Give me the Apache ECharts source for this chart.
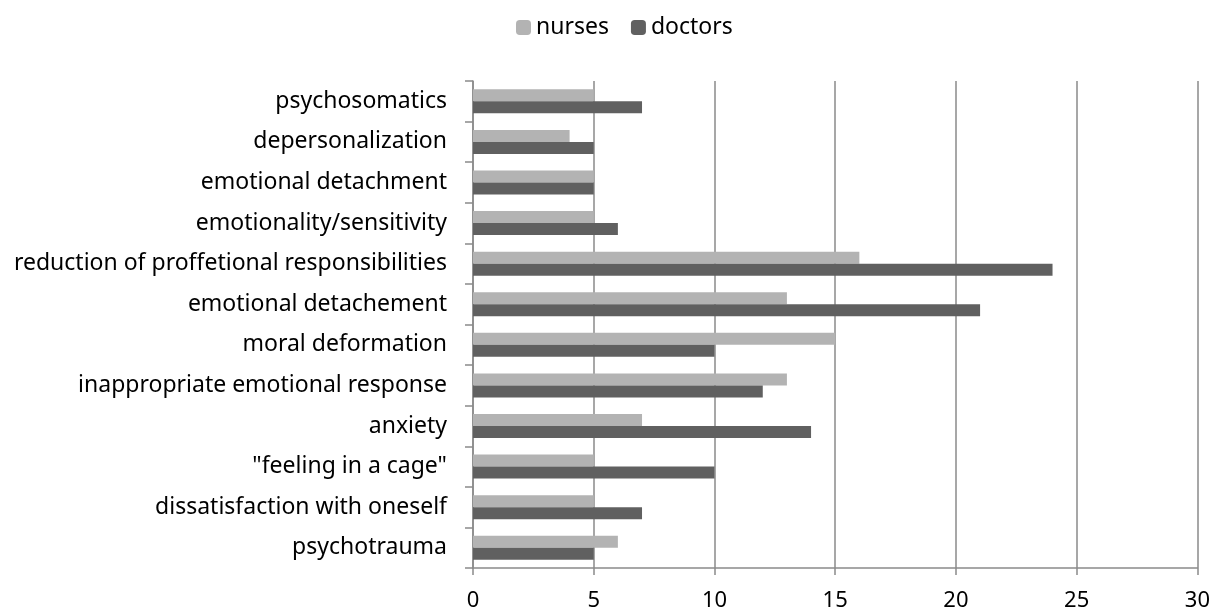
<!DOCTYPE html>
<html>
<head>
<meta charset="utf-8">
<script src="https://cdn.jsdelivr.net/npm/echarts@6/dist/echarts.min.js"></script>
<style>
  html, body { margin: 0; padding: 0; background: #fff; }
  #chart { width: 1213px; height: 612px; }
</style>
</head>
<body>
<div id="chart"></div>
<script>
// categories bottom -> top
var categories = ["psychotrauma", "dissatisfaction with oneself", "\"feeling in a cage\"", "anxiety",
  "inappropriate emotional response", "moral deformation", "emotional detachement",
  "reduction of proffetional responsibilities", "emotionality/sensitivity",
  "emotional detachment", "depersonalization", "psychosomatics"];
var nurses = [6, 5, 5, 7, 13, 15, 13, 16, 5, 5, 4, 5];
var doctors = [5, 7, 10, 14, 12, 10, 21, 24, 6, 5, 5, 7];
var xTicks = { min: 0, max: 30, step: 5 };

var chart = echarts.init(document.getElementById("chart"));
var font = "Noto Sans";
var gray = "#8a8a8a";
chart.setOption({
  animation: false,
  legend: {
    top: 11,
    left: 511,
    itemWidth: 15,
    itemHeight: 15,
    itemGap: 22,
    textStyle: { fontFamily: font, fontSize: 23, color: "#000" },
    data: ["nurses", "doctors"]
  },
  grid: { left: 473, right: 15, top: 81, bottom: 44 },
  xAxis: {
    type: "value",
    min: xTicks.min, max: xTicks.max, interval: xTicks.step,
    axisLine: { show: true, lineStyle: { color: gray, width: 1.5 } },
    axisTick: { show: true, inside: false, length: 7, lineStyle: { color: gray, width: 1.5 } },
    axisLabel: { fontFamily: font, fontSize: 22, color: "#000", margin: 22 },
    splitLine: { show: true, lineStyle: { color: gray, width: 1.5 } }
  },
  yAxis: {
    type: "category",
    data: categories,
    axisLine: { show: true, lineStyle: { color: gray, width: 1.5 } },
    axisTick: { show: true, length: 8, lineStyle: { color: gray, width: 1.5 } },
    axisLabel: { fontFamily: font, fontSize: 23, color: "#000", margin: 26 }
  },
  series: [
    { name: "nurses", type: "bar", data: nurses, barWidth: 12, barGap: "0%",
      itemStyle: { color: "#b3b3b3" } },
    { name: "doctors", type: "bar", data: doctors, barWidth: 12, barGap: "0%",
      itemStyle: { color: "#606060" } }
  ]
});
</script>
</body>
</html>
